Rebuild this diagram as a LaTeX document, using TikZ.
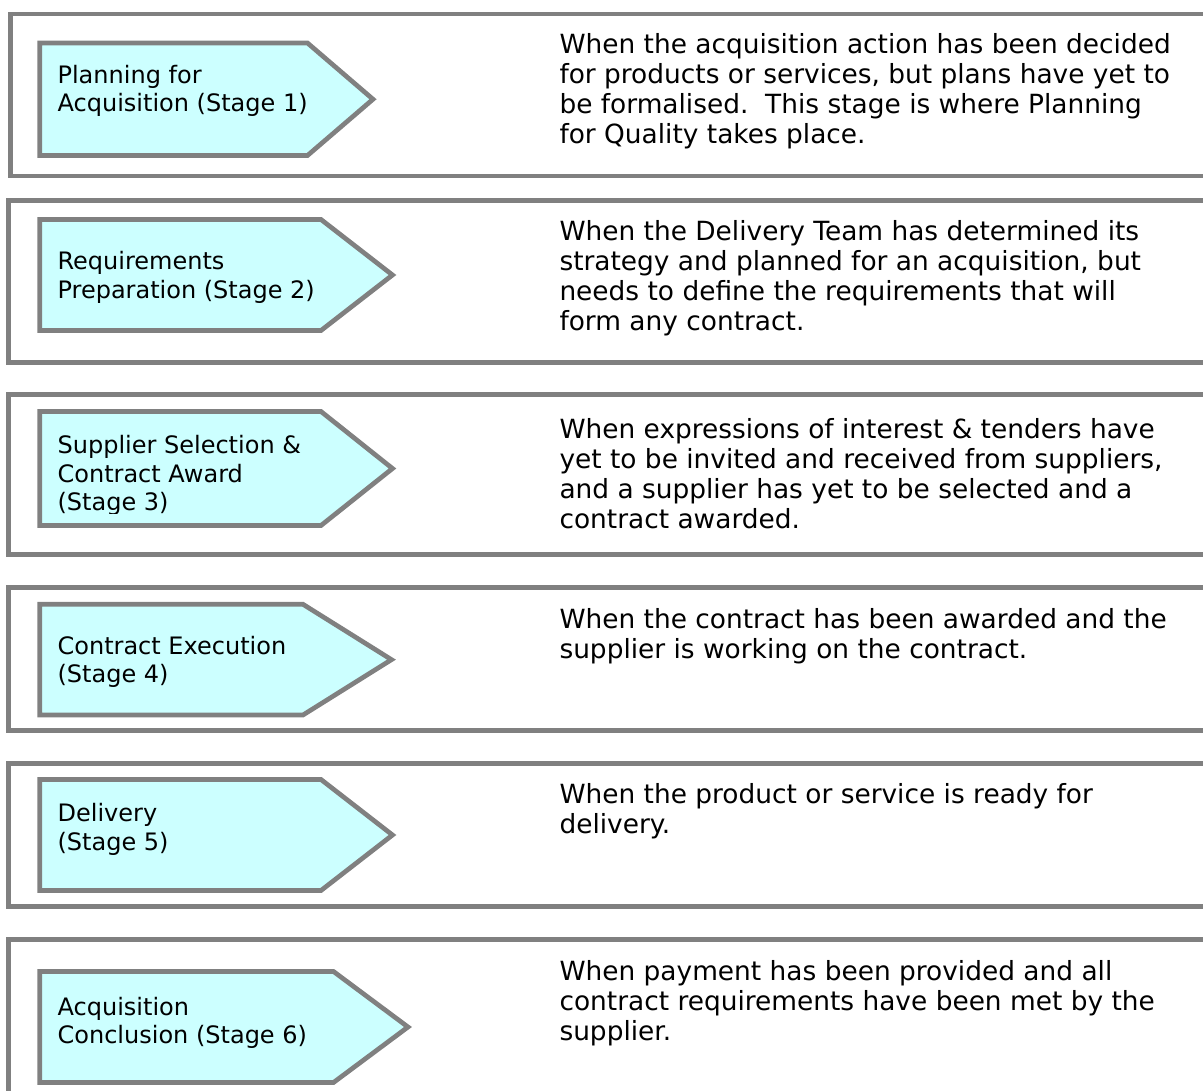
\documentclass[tikz,border=0pt]{standalone}
\usepackage{fontspec}
\setmainfont{DejaVu Sans}
\frenchspacing
\definecolor{bordergray}{RGB}{128,128,128}
\definecolor{stagefill}{RGB}{204,255,255}
\tikzset{
  panelbox/.style={draw=bordergray, line width=4.7pt, line join=miter},
  stagebox/.style={draw=bordergray, fill=stagefill, line width=4.7pt, line join=miter},
  stagetext/.style={anchor=north west, inner sep=0pt, outer sep=0pt, align=left, font=\fontsize{24}{28.7}\selectfont},
  desctext/.style={anchor=north west, inner sep=0pt, outer sep=0pt, align=left, font=\fontsize{26.4}{30}\selectfont},
}
\newcommand\StageArrow[4]{% top, bottom, corner x, tip x
  \draw[stagebox] (39.8,#1) -- (#3,#1) -- (#4,{(#1+#2)/2}) -- (#3,#2) -- (39.8,#2) -- cycle;}
\newcommand\SStrut{\rule{0pt}{24pt}}
\newcommand\DStrut{\rule{0pt}{26pt}}
\begin{document}
\begin{tikzpicture}[x=1pt,y=-1pt]
\useasboundingbox (0,0) rectangle (1203,1091);
\clip (0,0) rectangle (1203,1091);
% panels
\draw[panelbox] (10.3,14) rectangle (1220,176);
\draw[panelbox] (8.3,200.5) rectangle (1220,362.5);
\draw[panelbox] (8.3,394.5) rectangle (1220,554.5);
\draw[panelbox] (8.3,587.5) rectangle (1220,730.5);
\draw[panelbox] (8.3,763.3) rectangle (1220,906.5);
\draw[panelbox] (8.3,939.5) rectangle (1220,1110);
% stage arrows
\StageArrow{43}{155.5}{307.5}{373}
\StageArrow{219.5}{330.5}{321}{392.5}
\StageArrow{411.5}{525.5}{321}{392.5}
\StageArrow{604.3}{715}{303}{391.5}
\StageArrow{779.5}{890.5}{321}{392.5}
\StageArrow{971.5}{1082.5}{333.5}{408}
% stage labels
\node[stagetext] (s1) at (57.6,83.3-24) {\SStrut Planning for\\Acquisition (Stage 1)};
\node[stagetext] (s2) at (57.6,270-24) {\SStrut Requirements\\Preparation (Stage 2)};
\begin{scope}
\clip (0,0) rectangle (1203,513.3);
\node[stagetext] (s3) at (57.6,453.3-24) {\SStrut Supplier Selection \&\\Contract Award\\(Stage 3)};
\end{scope}
\node[stagetext] (s4) at (57.6,654-24) {\SStrut Contract Execution\\(Stage 4)};
\node[stagetext] (s5) at (57.6,821.7-24) {\SStrut Delivery\\(Stage 5)};
\node[stagetext] (s6) at (57.6,1015-24) {\SStrut Acquisition\\Conclusion (Stage 6)};
% descriptions
\node[desctext] (d1) at (559.5,53.3-26) {\DStrut When the acquisition action has been decided\\for products or services, but plans have yet to\\be formalised.\ \ This stage is where Planning\\for Quality takes place.};
\node[desctext] (d2) at (559.5,240.5-26) {\DStrut When the Delivery Team has determined its\\strategy and planned for an acquisition, but\\needs to define the requirements that will\\form any contract.};
\node[desctext] (d3) at (559.5,438-26) {\DStrut When expressions of interest \& tenders have\\yet to be invited and received from suppliers,\\and a supplier has yet to be selected and a\\contract awarded.};
\node[desctext] (d4) at (559.5,628.3-26) {\DStrut When the contract has been awarded and the\\supplier is working on the contract.};
\node[desctext] (d5) at (559.5,803.3-26) {\DStrut When the product or service is ready for\\delivery.};
\node[desctext] (d6) at (559.5,980.3-26) {\DStrut When payment has been provided and all\\contract requirements have been met by the\\supplier.};
\end{tikzpicture}
\end{document}
